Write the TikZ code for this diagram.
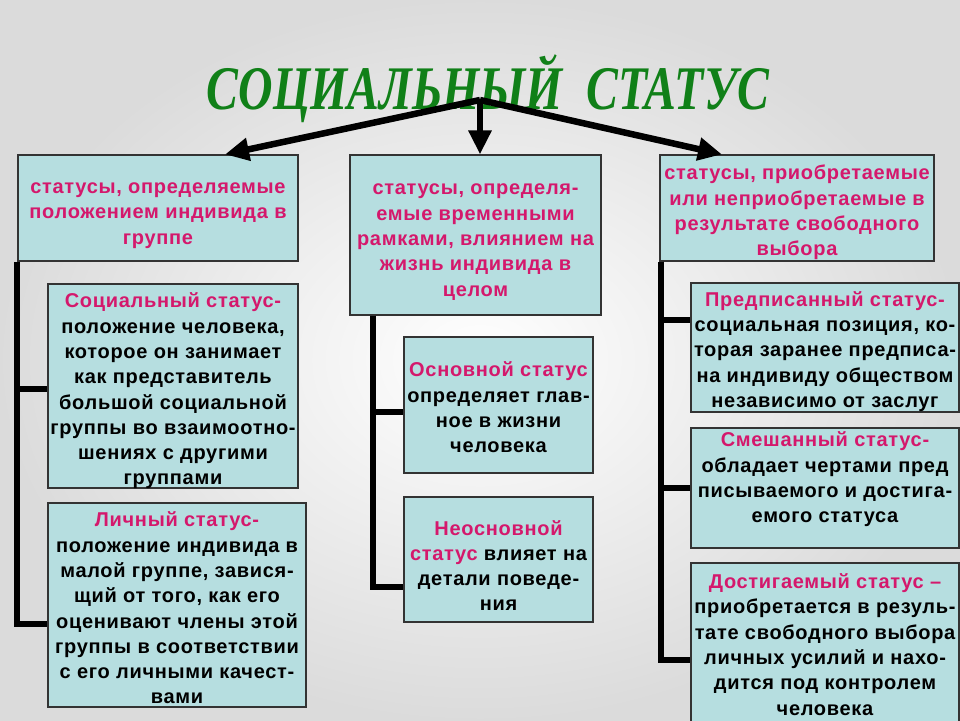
\documentclass[tikz,border=0pt]{standalone}
\usepackage{fontspec}
\setmainfont{Liberation Sans}[LetterSpace=3.5]
\newfontfamily\titlefont{Liberation Serif}
\usepackage{graphicx}
\usepackage{xcolor}
\usetikzlibrary{arrows.meta}
\definecolor{boxfill}{RGB}{182,222,224}
\definecolor{pinktext}{RGB}{212,24,108}
\definecolor{titlegreen}{RGB}{16,128,24}
\tikzset{
  stbox/.style={draw=black!80, line width=1.2pt, fill=boxfill, inner sep=0pt},
  stext/.style={inner sep=0pt, align=center, yshift=-5pt,
    font=\bfseries\fontsize{20}{25.3}\selectfont},
  ttext/.style={stext, text=pinktext},
  bar/.style={line width=6pt, line join=miter},
  fork/.style={line width=6.5pt, -{Triangle[length=24pt,width=22pt]}},
}

\begin{document}
\begin{tikzpicture}[x=1pt,y=-1pt]
% background
\shade[inner color=white, outer color=black!14] (0,0) rectangle (960,720);
\useasboundingbox (0,0) rectangle (960,720);

% title
\node[anchor=base, text=titlegreen, font=\titlefont\bfseries\itshape\fontsize{62}{62}\selectfont] (title) at (488,109)
  {\scalebox{0.77}[1]{СОЦИАЛЬНЫЙ\ \ СТАТУС}};

% three groups
\node[stbox, minimum width=280pt, minimum height=106pt,
  label={[ttext, yshift=-2.5pt]center:{статусы, определяемые\\положением индивида в\\группе}}] (lt) at (158,208) {};
\node[stbox, minimum width=251pt, minimum height=160pt,
  label={[ttext, yshift=-2pt]center:{статусы, определя-\\емые временными\\рамками, влиянием на\\жизнь индивида в\\целом}}] (mt) at (475.5,235) {};
\node[stbox, minimum width=274pt, minimum height=106pt,
  label={[ttext, yshift=0.5pt]center:{статусы, приобретаемые\\или неприобретаемые в\\результате свободного\\выбора}}] (rt) at (797,208) {};

% left column
\node[stbox, minimum width=250pt, minimum height=204pt,
  label={[stext]center:{\textcolor{pinktext}{Социальный статус-}\\положение человека,\\которое он занимает\\как представитель\\большой социальной\\группы во взаимоотно-\\шениях с другими\\группами}}] (ls1) at (173,386) {};
\node[stbox, minimum width=258pt, minimum height=204pt,
  label={[stext, yshift=2pt]center:{\textcolor{pinktext}{Личный статус-}\\положение индивида в\\малой группе, завися-\\щий от того, как его\\оценивают члены этой\\группы в соответствии\\с его личными качест-\\вами}}] (ls2) at (177,605) {};

% middle column
\node[stbox, minimum width=189pt, minimum height=136pt,
  label={[stext, yshift=2.5pt]center:{\textcolor{pinktext}{Основной статус}\\определяет глав-\\ное в жизни\\человека}}] (ms1) at (498.5,405) {};
\node[stbox, minimum width=189pt, minimum height=125pt,
  label={[stext, yshift=-1pt]center:{\textcolor{pinktext}{Неосновной}\\\textcolor{pinktext}{статус} влияет на\\детали поведе-\\ния}}] (ms2) at (498.5,559.5) {};

% right column
\node[stbox, minimum width=268pt, minimum height=129pt,
  label={[stext, yshift=1pt]center:{\textcolor{pinktext}{Предписанный статус-}\\социальная позиция, ко-\\торая заранее предписа-\\на индивиду обществом\\независимо от заслуг}}] (rs1) at (825,347.5) {};
\node[stbox, minimum width=268pt, minimum height=120pt,
  label={[stext, yshift=13.5pt]center:{\textcolor{pinktext}{Смешанный статус-}\\обладает чертами пред\\писываемого и достига-\\емого статуса}}] (rs2) at (825,488) {};
\node[stbox, minimum width=268pt, minimum height=177pt,
  label={[stext, yshift=12pt]center:{\textcolor{pinktext}{Достигаемый статус –}\\приобретается в резуль-\\тате свободного выбора\\личных усилий и нахо-\\дится под контролем\\человека}}] (rs3) at (825,651.5) {};

% arrows from the title
\coordinate (hub) at (480,100);
\draw[fork] (hub) -- ([xshift=67pt]lt.north);
\draw[fork] (hub) -- (hub |- mt.north);
\draw[fork] (hub) -- ([xshift=-75pt]rt.north);

% brackets
\draw[bar] (lt.south west) |- ([yshift=-3pt]ls1.west);
\draw[bar] (lt.south west) |- ([yshift=-19pt]ls2.west);
\draw[bar] ([xshift=24pt]mt.south west) |- ([yshift=-7pt]ms1.west);
\draw[bar] ([xshift=24pt]mt.south west) |- ([yshift=-27pt]ms2.west);
\draw[bar] ([xshift=2pt]rt.south west) |- ([yshift=28pt]rs1.west);
\draw[bar] ([xshift=2pt]rt.south west) |- (rs2.west);
\draw[bar] ([xshift=2pt]rt.south west) |- ([yshift=-8pt]rs3.west);
\end{tikzpicture}
\end{document}
